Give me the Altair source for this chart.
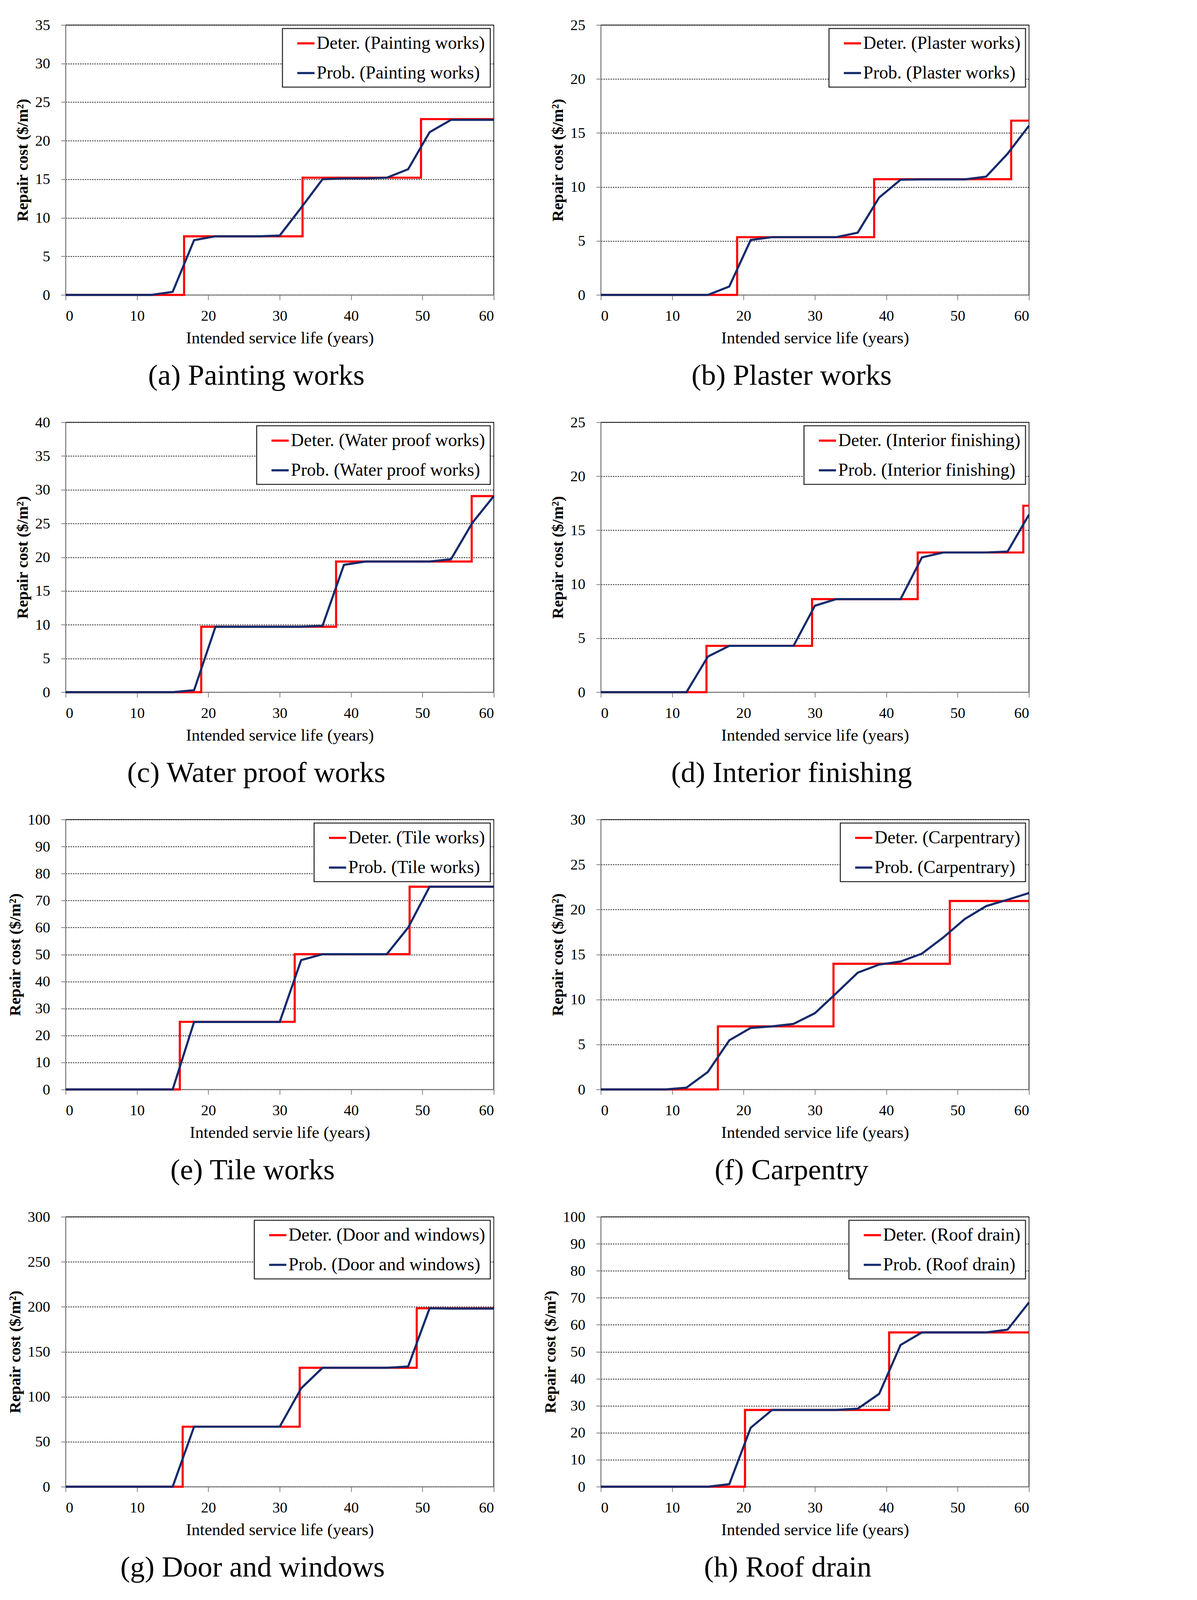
import altair as alt
import pandas as pd

# ---------------- data ----------------
years = list(range(0, 61, 3))

letters = ["a", "b", "c", "d", "e", "f", "g", "h"]
captions = ["Painting works", "Plaster works", "Water proof works", "Interior finishing",
            "Tile works", "Carpentry", "Door and windows", "Roof drain"]
legend_names = ["Painting works", "Plaster works", "Water proof works", "Interior finishing",
                "Tile works", "Carpentrary", "Door and windows", "Roof drain"]
x_titles = ["Intended service life (years)"] * 4 + ["Intended servie life (years)"] + \
           ["Intended service life (years)"] * 3
y_max = [35, 25, 40, 25, 100, 30, 300, 100]
y_step = [5, 5, 5, 5, 10, 5, 50, 10]

# deterministic (step) series: change points
det_x_a = [0, 16.6, 33.2, 49.8, 60]
det_y_a = [0, 7.6, 15.2, 22.8, 22.8]
det_x_b = [0, 19.1, 38.3, 57.5, 60]
det_y_b = [0, 5.35, 10.72, 16.14, 16.14]
det_x_c = [0, 19.0, 37.9, 56.9, 60]
det_y_c = [0, 9.7, 19.36, 29.06, 29.06]
det_x_d = [0, 14.8, 29.6, 44.4, 59.2, 60]
det_y_d = [0, 4.29, 8.62, 12.94, 17.27, 17.27]
det_x_e = [0, 16.0, 32.1, 48.2, 60]
det_y_e = [0, 25.05, 50.1, 75.1, 75.1]
det_x_f = [0, 16.4, 32.6, 48.9, 60]
det_y_f = [0, 7.01, 13.97, 20.95, 20.95]
det_x_g = [0, 16.4, 32.8, 49.2, 60]
det_y_g = [0, 66.7, 132.2, 198.3, 198.3]
det_x_h = [0, 20.2, 40.4, 60]
det_y_h = [0, 28.44, 57.16, 57.16]

# probabilistic series at 0, 3, ..., 60 years
prob_a = [0, 0, 0, 0, 0, 0.4, 7.1, 7.6, 7.6, 7.6, 7.7, 11.3, 15.0, 15.1, 15.1, 15.2, 16.3, 21.1, 22.7, 22.7, 22.7]
prob_b = [0, 0, 0, 0, 0, 0, 0.78, 5.09, 5.35, 5.35, 5.35, 5.35, 5.77, 9.02, 10.67, 10.7, 10.7, 10.7, 10.96, 13.08, 15.67]
prob_c = [0, 0, 0, 0, 0, 0, 0.3, 9.7, 9.7, 9.7, 9.7, 9.7, 9.85, 18.87, 19.36, 19.36, 19.36, 19.36, 19.7, 25.1, 29.06]
prob_d = [0, 0, 0, 0, 0, 3.3, 4.29, 4.29, 4.29, 4.29, 8.01, 8.62, 8.62, 8.62, 8.62, 12.49, 12.94, 12.94, 12.94, 13.03, 16.45]
prob_e = [0, 0, 0, 0, 0, 0, 25.0, 25.0, 25.0, 25.0, 25.0, 47.9, 50.1, 50.1, 50.1, 50.1, 60.0, 75.1, 75.1, 75.1, 75.1]
prob_f = [0, 0, 0, 0, 0.2, 1.95, 5.46, 6.84, 7.01, 7.29, 8.48, 10.7, 12.98, 13.88, 14.22, 15.1, 16.9, 18.94, 20.38, 21.09, 21.83]
prob_g = [0, 0, 0, 0, 0, 0, 66.7, 66.7, 66.7, 66.7, 66.7, 109.3, 132.2, 132.2, 132.2, 132.2, 133.6, 198.3, 198.0, 198.0, 198.0]
prob_h = [0, 0, 0, 0, 0, 0, 0.94, 21.85, 28.44, 28.44, 28.44, 28.44, 28.9, 34.4, 52.5, 57.16, 57.16, 57.16, 57.16, 58.2, 68.3]

det_x = [det_x_a, det_x_b, det_x_c, det_x_d, det_x_e, det_x_f, det_x_g, det_x_h]
det_y = [det_y_a, det_y_b, det_y_c, det_y_d, det_y_e, det_y_f, det_y_g, det_y_h]
probs = [prob_a, prob_b, prob_c, prob_d, prob_e, prob_f, prob_g, prob_h]

RED = "#ff0000"
NAVY = "#142a6b"
SERIF = "Liberation Serif"


def panel(i):
    name = legend_names[i]
    det_lab = f"Deter. ({name})"
    prob_lab = f"Prob. ({name})"
    df_det = pd.DataFrame({"x": det_x[i], "y": det_y[i], "series": det_lab})
    df_prob = pd.DataFrame({"x": years, "y": probs[i], "series": prob_lab})

    color = alt.Color(
        "series:N",
        scale=alt.Scale(domain=[det_lab, prob_lab], range=[RED, NAVY]),
        legend=alt.Legend(
            title=None, orient="top-right", offset=9,
            padding=13, rowPadding=28, symbolOffset=22,
            symbolType="stroke", symbolSize=1936, symbolStrokeWidth=5.4,
            labelOffset=2.6, labelFontSize=46, labelFont=SERIF, labelLimit=2000,
            labelColor="black",
            labelExpr="datum.label + '\u00a0\u00a0'",
            strokeColor="#222222", fillColor="white",
        ),
    )
    x = alt.X("x:Q", scale=alt.Scale(domain=[0, 60], nice=False),
              axis=alt.Axis(values=list(range(0, 61, 10)), title=x_titles[i], grid=False))
    y = alt.Y("y:Q", scale=alt.Scale(domain=[0, y_max[i]], nice=False),
              axis=alt.Axis(values=list(range(0, y_max[i] + 1, y_step[i])),
                            title="Repair cost ($/m²)"))

    det = alt.Chart(df_det).mark_line(interpolate="step-after", strokeWidth=5.4).encode(
        x=x, y=y, color=color)
    pr = alt.Chart(df_prob).mark_line(strokeWidth=5.4).encode(x=x, y=y, color=color)
    return alt.layer(det, pr).properties(
        width=1096, height=691,
        title=alt.TitleParams(f"({letters[i]}) {captions[i]}", orient="bottom"),
    )


chart = alt.concat(*[panel(i) for i in range(8)], columns=2,
                   spacing={"row": 326, "column": 274}, bounds="flush")
chart = chart.resolve_scale(color="independent", x="independent", y="independent") \
    .resolve_legend(color="independent")

chart = chart.properties(
    padding={"left": 9, "top": 36, "right": 17, "bottom": 17},
    background="white",
).configure_view(
    stroke="black", strokeWidth=1.75,
).configure_axis(
    labelFont=SERIF, labelFontSize=38.5, labelColor="black",
    titleFont=SERIF, titleColor="black",
    domainColor="#8a8a8a", domainWidth=2.2,
    tickColor="#8a8a8a", tickWidth=2.2,
).configure_axisX(
    tickSize=13, labelPadding=22, titlePadding=17,
    titleFontSize=43, titleFontWeight="normal",
).configure_axisY(
    tickSize=12, labelPadding=28, titlePadding=10,
    titleFontSize=41, titleFontWeight="bold",
    grid=True, gridColor="black", gridDash=[3.5, 2.6], gridWidth=1.75,
).configure_legend(
    strokeWidth=2.6,
).configure_title(
    font=SERIF, fontSize=75, fontWeight="normal", color="black",
    anchor="middle", frame="bounds", offset=38,
)

chart.save("out.html", embed_options={"renderer": "svg", "actions": False})
